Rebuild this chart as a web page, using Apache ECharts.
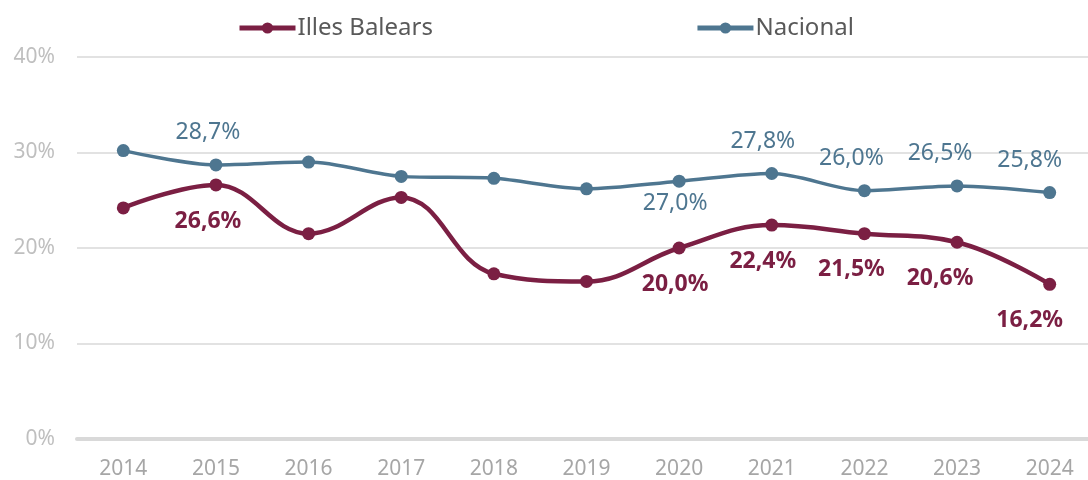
<!DOCTYPE html>
<html><head><meta charset="utf-8">
<script src="https://cdn.jsdelivr.net/npm/echarts@6/dist/echarts.min.js"></script>
<style>html,body{margin:0;padding:0;background:#fff;overflow:hidden}#c{width:1096px;height:480px}</style>
</head><body><div id="c"></div>
<script>
const years = ['2014','2015','2016','2017','2018','2019','2020','2021','2022','2023','2024'];
const balears = [24.2, 26.6, 21.5, 25.3, 17.3, 16.5, 20.0, 22.4, 21.5, 20.6, 16.2];
const nacional = [30.2, 28.7, 29.0, 27.5, 27.3, 26.2, 27.0, 27.8, 26.0, 26.5, 25.8];
const balearsLabeled = ['2015','2020','2021','2022','2023','2024'];
const nacionalLabeled = ['2015','2020','2021','2022','2023','2024'];
const nacionalBelow = ['2020'];

const fmt = v => v.toFixed(1).replace('.', ',') + '%';
const FONT = 'Noto Sans';
const cB = '#7B1F43', cN = '#4E7690';
const labelShift = { '2015': -8, '2020': -4, '2021': -9, '2022': -13, '2023': -17, '2024': -20 };

const balData = balears.map((v, i) => {
  const show = balearsLabeled.includes(years[i]);
  return { value: v, label: { show, position: 'bottom', distance: 18,
    offset: [labelShift[years[i]] || 0, 0] } };
});
const nacData = nacional.map((v, i) => {
  const show = nacionalLabeled.includes(years[i]);
  const below = nacionalBelow.includes(years[i]);
  return { value: v, label: { show, position: below ? 'bottom' : 'top', distance: below ? 4 : 14,
    offset: [labelShift[years[i]] || 0, 0] } };
});

const chart = echarts.init(document.getElementById('c'));
chart.setOption({
  animation: false,
  textStyle: { fontFamily: FONT },
  legend: {
    top: 11, left: 232, itemGap: 262, itemWidth: 56, itemHeight: 14,
    textStyle: { fontSize: 24, color: '#595959', fontFamily: FONT, padding: [0, 0, 0, -3] },
    lineStyle: { width: 5 },
    data: ['Illes Balears', 'Nacional']
  },
  grid: { left: 77, right: 0, top: 57, bottom: 39, containLabel: false },
  xAxis: {
    type: 'category', data: years, boundaryGap: true,
    axisLine: { show: true, lineStyle: { color: '#D9D9D9', width: 4 } },
    axisTick: { show: false },
    axisLabel: { color: '#A6A6A6', fontSize: 21, margin: 20, fontFamily: FONT }
  },
  yAxis: {
    type: 'value', min: 0, max: 40, interval: 10,
    axisLine: { show: false }, axisTick: { show: false },
    axisLabel: { formatter: v => v + '%', color: '#BFBFBF', fontSize: 21, margin: 22, fontFamily: FONT },
    splitLine: { lineStyle: { color: '#D9D9D9', width: 1.5 } }
  },
  series: [
    {
      name: 'Illes Balears', type: 'line', smooth: 0.4, data: balData,
      symbol: 'circle', symbolSize: 13,
      lineStyle: { color: cB, width: 4.5 }, itemStyle: { color: cB },
      label: { formatter: p => fmt(p.value), color: cB, fontSize: 23, fontWeight: 'bold', fontFamily: FONT },
      z: 3
    },
    {
      name: 'Nacional', type: 'line', smooth: 0.3, data: nacData,
      symbol: 'circle', symbolSize: 13,
      lineStyle: { color: cN, width: 3.5 }, itemStyle: { color: cN },
      label: { formatter: p => fmt(p.value), color: cN, fontSize: 23, fontFamily: FONT },
      z: 2
    }
  ]
});
</script></body></html>
